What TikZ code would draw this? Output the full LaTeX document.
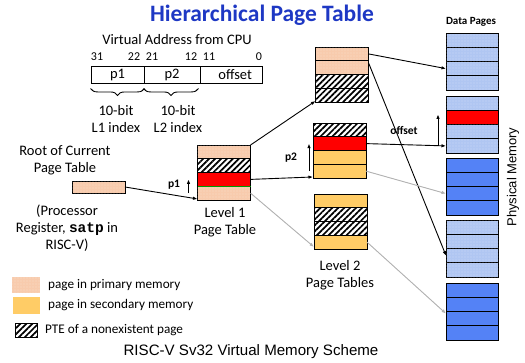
\documentclass[tikz,border=0pt]{standalone}
\usepackage{fontspec}
\setmainfont{Carlito}
\newfontfamily\capfont{Liberation Sans}
\newfontfamily\codefont{Liberation Mono}
\usetikzlibrary{arrows.meta, patterns.meta, decorations.pathreplacing, positioning}

\definecolor{peach}{RGB}{248,203,173}
\definecolor{amber}{RGB}{255,204,102}
\definecolor{paleblue}{RGB}{176,198,242}
\definecolor{deepblue}{RGB}{84,130,246}
\definecolor{titleblue}{RGB}{30,56,196}

\begin{document}
\begin{tikzpicture}[x=1pt, y=-1pt,
		cell/.style={draw, line width=0.9pt, minimum width=53pt, minimum height=13.75pt, inner sep=0pt, outer sep=0pt},
		primary/.style={cell, fill=peach, postaction={pattern={Dots[distance=3pt, radius=0.4pt]}, pattern color=white}},
		secondary/.style={cell, fill=amber},
		nopage/.style={cell, fill=white, postaction={pattern={Lines[angle=45, distance=4.2pt, line width=1.7pt]}}},
		hit/.style={cell, fill=red},
		datapage/.style={cell, minimum width=52pt, minimum height=14.25pt},
		lightpage/.style={datapage, fill=paleblue, postaction={pattern={Dots[distance=3pt, radius=0.4pt]}, pattern color=white}},
		darkpage/.style={datapage, fill=deepblue},
		addr/.style={draw, line width=0.9pt, minimum height=17pt, inner sep=0pt, font=\fontsize{14.5}{17}\selectfont},
		lbl/.style={font=\fontsize{14.5}{17.2}\selectfont, align=center, inner sep=0pt},
		bitno/.style={font=\fontsize{12}{14}\selectfont, inner sep=0pt},
		idxlbl/.style={font=\bfseries\fontsize{11.5}{13}\selectfont, inner sep=0pt},
		keytext/.style={font=\fontsize{13.2}{15}\selectfont, inner sep=0pt, right=8pt of #1},
		ptr/.style={-{Latex[length=4.5pt, width=3.5pt]}, line width=0.9pt},
		faint/.style={ptr, draw=gray!60, fill=gray!60}
		]
	\useasboundingbox (0,0) rectangle (525,362);

	\node[font=\bfseries\fontsize{23.5}{26}\selectfont, text=titleblue] (title) at (262,15) {Hierarchical Page Table};

	% virtual address
	\node[lbl] (vatitle) at (177,40) {Virtual Address from CPU};
	\node[bitno] (b31) at (97,57) {31};
	\node[bitno] (b22) at (134,57) {22};
	\node[bitno] (b21) at (152,57) {21};
	\node[bitno] (b12) at (191,57) {12};
	\node[bitno] (b11) at (209,57) {11};
	\node[bitno] (b0) at (259,57) {0};
	\node[addr, minimum width=53pt] (vp1) at (117.5,74.5) {p1};
	\node[addr, minimum width=56pt] (vp2) at (172,74.5) {p2};
	\node[addr, minimum width=62pt, text width=42pt, align=right] (voff) at (231,74.5) {offset};
	\draw[decorate, decoration={brace, mirror, amplitude=7pt}, line width=0.9pt]
		([yshift=-5pt]vp1.south west) -- ([yshift=-5pt]vp1.south east);
	\draw[decorate, decoration={brace, mirror, amplitude=7pt}, line width=0.9pt]
		([yshift=-5pt]vp2.south west) -- ([xshift=-2pt, yshift=-5pt]vp2.south east);
	\node[lbl] (l1idx) at (116,119) {10-bit\\L1 index};
	\node[lbl] (l2idx) at (178,119) {10-bit\\L2 index};

	% root register
	\node[lbl] (roottxt) at (65,160) {Root of Current\\Page Table};
	\node[primary, minimum height=12pt] (root) at (98.5,187) {};
	\node[lbl] (satptxt) at (67,228) {(Processor\\Register, {\codefont\bfseries satp} in\\RISC-V)};

	% level 1 table
	\node[primary] (lvlone-1) at (224,151.9) {};
	\node[nopage] (lvlone-2) at (224,165.6) {};
	\node[hit] (lvlone-3) at (224,179.4) {};
	\node[primary] (lvlone-4) at (224,193.1) {};
	\draw[green!60!black, line width=1.2pt] (lvlone-4.north west) -- (lvlone-4.north east);
	\node[lbl] (lvlonetxt) at (225,222) {Level 1\\Page Table};

	% level 2 tables
	\node[primary] (lvltwoA-1) at (342,53.9) {};
	\node[primary] (lvltwoA-2) at (342,67.6) {};
	\node[nopage] (lvltwoA-3) at (342,81.4) {};
	\node[nopage] (lvltwoA-4) at (342,95.1) {};

	\node[nopage] (lvltwoB-1) at (339.5,129.9) {};
	\node[hit] (lvltwoB-2) at (339.5,143.6) {};
	\node[secondary] (lvltwoB-3) at (339.5,157.4) {};
	\node[secondary] (lvltwoB-4) at (339.5,171.1) {};

	\node[secondary] (lvltwoC-1) at (340.5,200.9) {};
	\node[nopage] (lvltwoC-2) at (340.5,214.6) {};
	\node[nopage] (lvltwoC-3) at (340.5,228.4) {};
	\node[secondary] (lvltwoC-4) at (340.5,242.1) {};
	\node[lbl] (lvltwotxt) at (340,275) {Level 2\\Page Tables};

	% data pages
	\node[idxlbl, font=\bfseries\fontsize{11}{12}\selectfont] (datatxt) at (471,22) {Data Pages};
	\foreach \g/\ytop/\kind in {1/33/lightpage, 3/158/darkpage, 4/220/lightpage, 5/283/darkpage}
		\foreach \r in {1,...,4}
			\node[\kind] (d\g-\r) at (472,{\ytop+14.25*\r-7.125}) {};
	\node[lightpage] (d2-1) at (472,103.1) {};
	\node[datapage, fill=red] (d2-2) at (472,117.4) {};
	\node[lightpage] (d2-3) at (472,131.6) {};
	\node[lightpage] (d2-4) at (472,145.9) {};
	\node[font=\capfont\fontsize{13}{15}\selectfont, rotate=90] (physmem) at (513,177) {Physical Memory};

	% translation walk
	\draw[ptr] (root.east) -- ([yshift=1pt]lvlone-4.south west);
	\draw[ptr] ([xshift=-9pt]lvlone-4.west) -- ([xshift=-9pt]lvlone-3.west);
	\node[idxlbl] (p1lbl) at (174,185) {p1};
	\draw[ptr] (lvlone-1.north east) -- ([yshift=1pt]lvltwoA-4.south west);
	\draw[ptr] (lvlone-3.east) -- ([yshift=1pt]lvltwoB-4.south west);
	\draw[faint] (lvlone-4.east) -- ([yshift=2pt]lvltwoC-4.south west);
	\draw[ptr] ([xshift=-4pt]lvltwoB-4.west) -- ([xshift=-4pt]lvltwoB-2.west);
	\node[idxlbl] (p2lbl) at (291,158) {p2};

	\draw[ptr] (lvltwoA-1.east) -- (d1-3.west);
	\draw[ptr] ([yshift=-2pt]lvltwoA-2.north east) -- (d4-3.west);
	\draw[ptr] (lvltwoB-2.east) -- (d2-4.west);
	\draw[ptr] ([xshift=-8pt]d2-4.west) -- ([xshift=-8pt, yshift=3pt]d2-2.west);
	\node[idxlbl] (offlbl) at (404,130) {offset};
	\draw[faint] (lvltwoB-4.east) -- (d3-3.west);
	\draw[faint] (lvltwoC-4.east) -- ([yshift=5pt]d5-3.west);

	% legend
	\node[primary, draw=none, minimum width=28pt, minimum height=16pt] (keyprim) at (26,285) {};
	\node[keytext=keyprim] (keyprimtxt) {page in primary memory};
	\node[secondary, draw=none, minimum width=27pt, minimum height=17pt] (keysec) at (26.5,305.5) {};
	\node[keytext=keysec] (keysectxt) {page in secondary memory};
	\node[nopage, minimum width=22pt, minimum height=14pt] (keynone) at (26,330) {};
	\node[keytext=keynone] (keynonetxt) {PTE of a nonexistent page};

	\node[font=\capfont\fontsize{15.1}{18}\selectfont] (caption) at (251,352) {RISC-V Sv32 Virtual Memory Scheme};
\end{tikzpicture}
\end{document}
